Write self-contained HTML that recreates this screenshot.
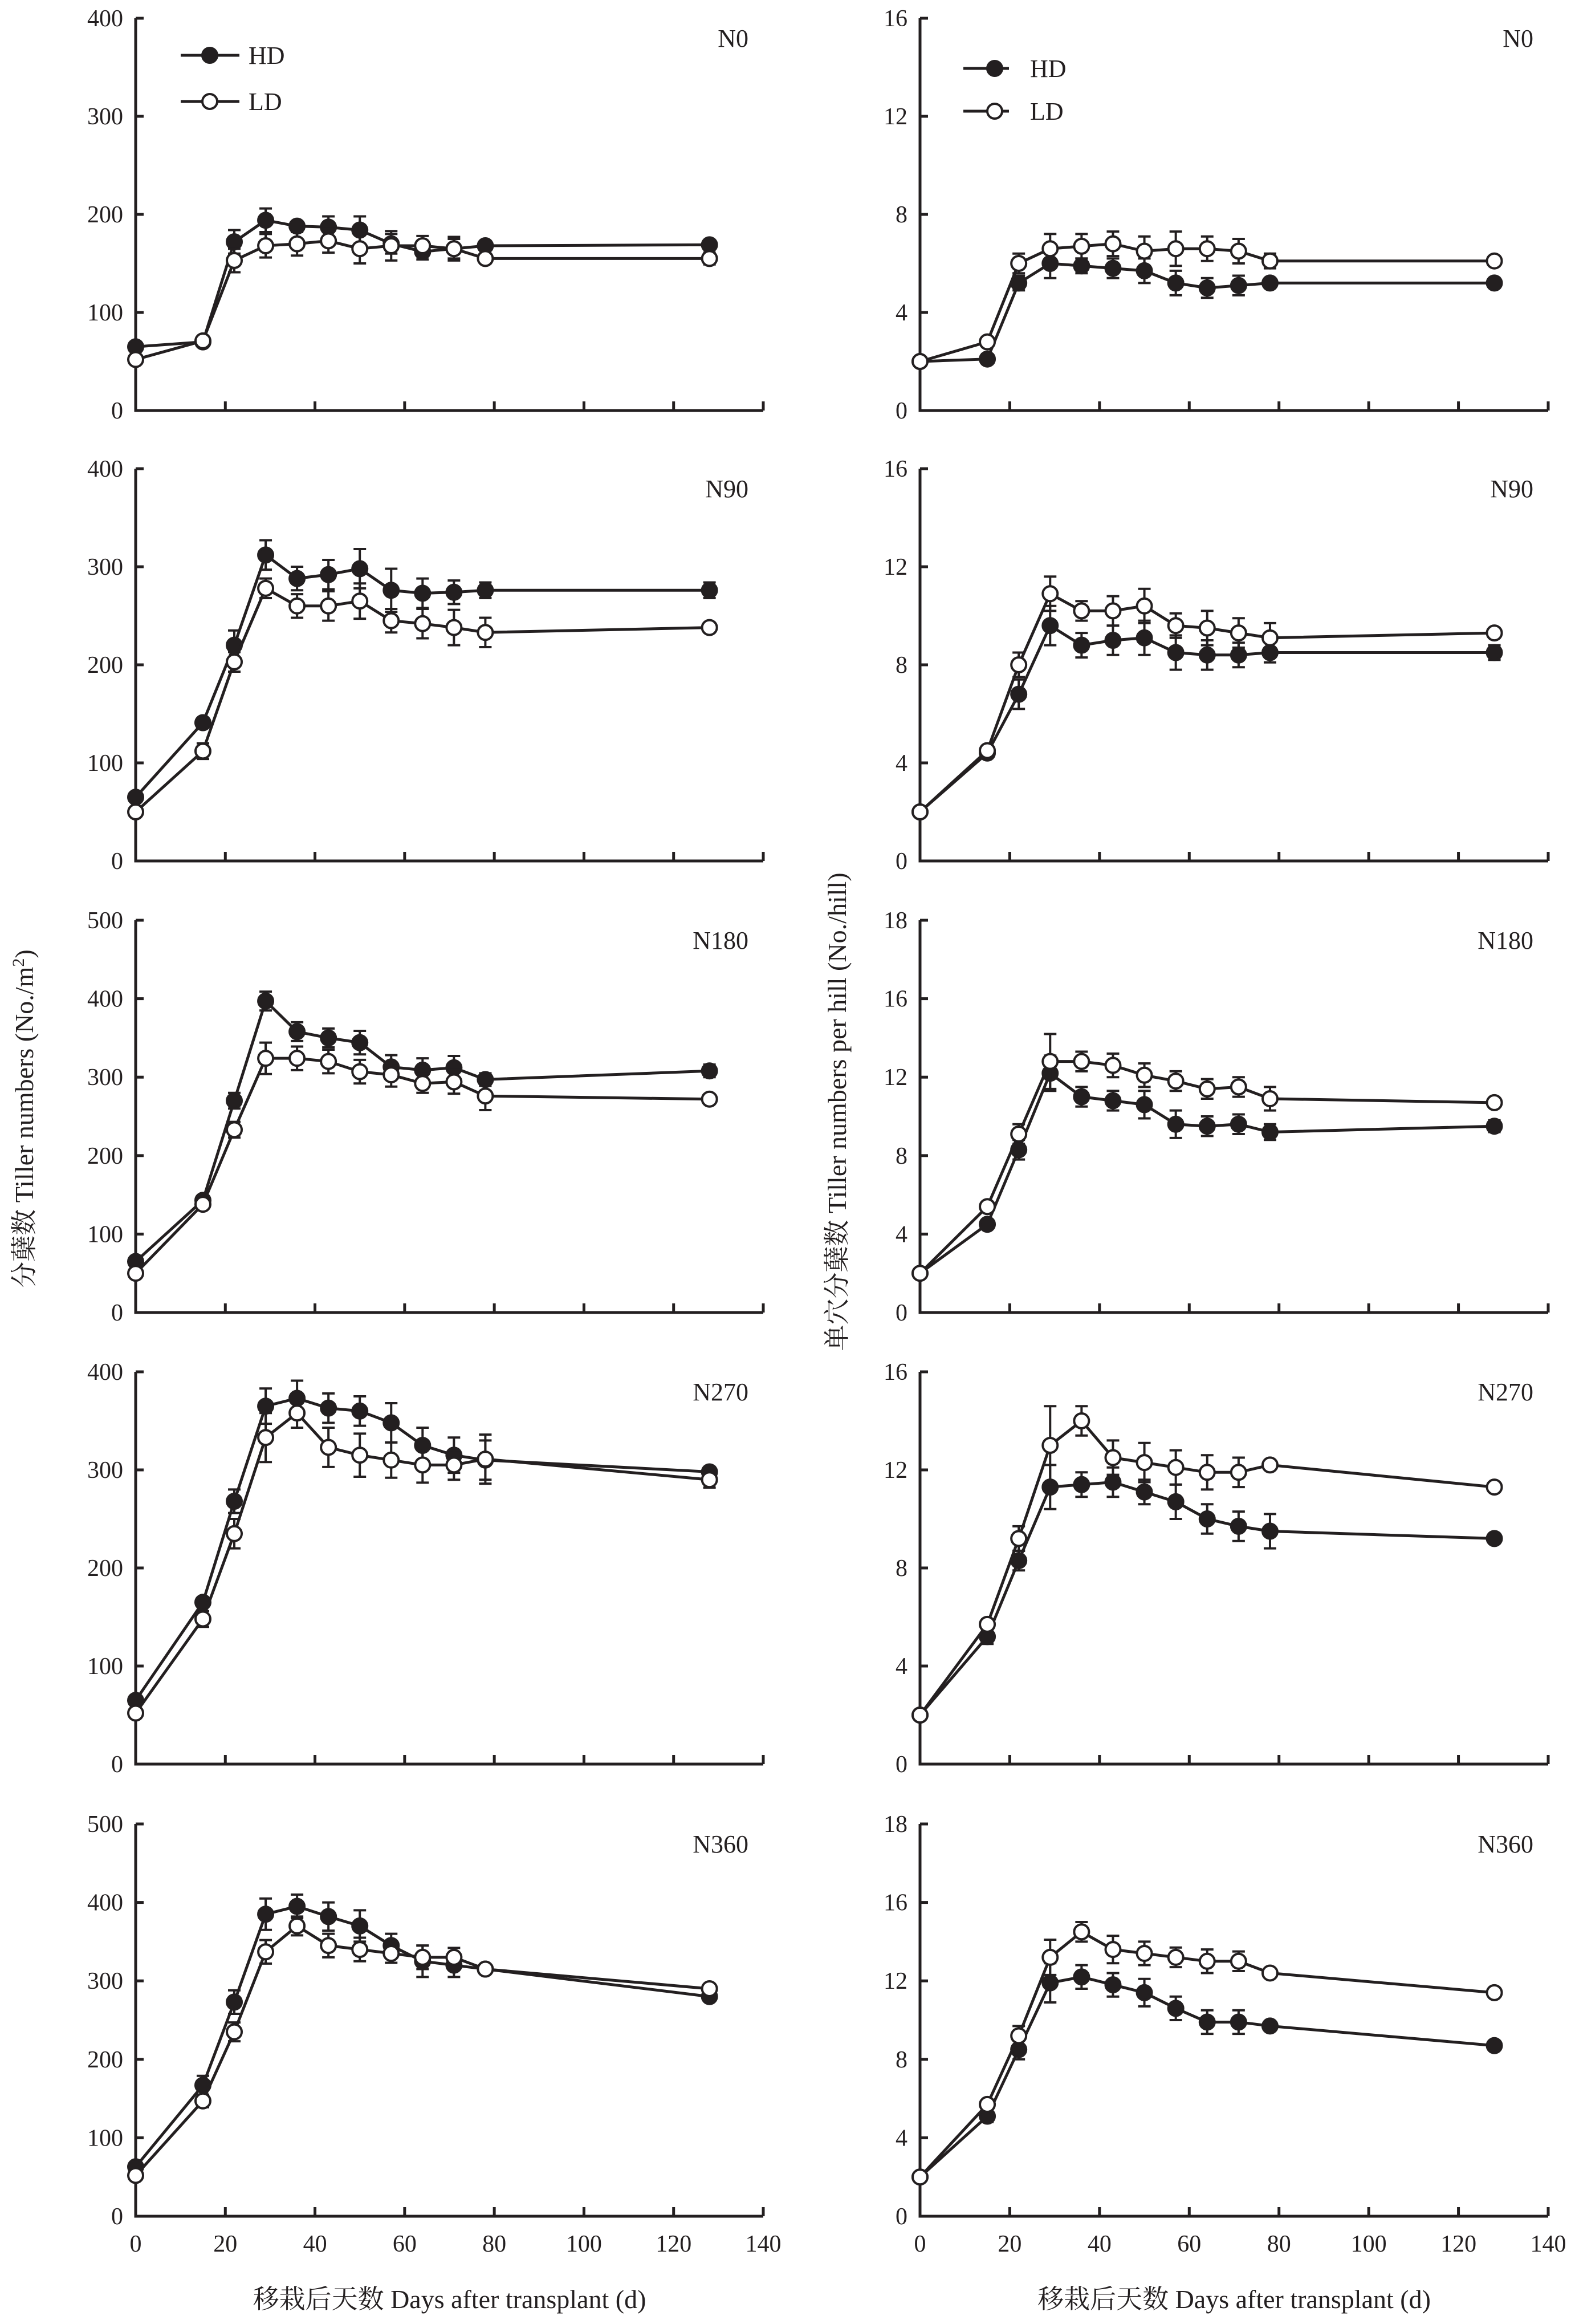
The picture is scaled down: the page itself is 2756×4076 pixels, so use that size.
<!DOCTYPE html>
<html><head><meta charset="utf-8"><style>
html,body{margin:0;padding:0;background:#fff}
svg text{font-family:"Liberation Serif","Noto Serif CJK SC",serif;fill:#231f20}
</style></head><body>
<svg id="c" width="2756" height="4071" viewBox="0 0 2756 4071" xmlns="http://www.w3.org/2000/svg"></svg>
<script>
const days=[0,15,22,29,36,43,50,57,64,71,78,128];
const xTicks=[0,20,40,60,80,100,120,140];
const panelLabels=["N0","N90","N180","N270","N360"];
const leftMax=[400,400,500,400,500];
const rightMax=[16,16,20,16,20];
const leftTicks=[[0,100,200,300,400],[0,100,200,300,400],[0,100,200,300,400,500],[0,100,200,300,400],[0,100,200,300,400,500]];
const leftTickLabels=[["0","100","200","300","400"],["0","100","200","300","400"],["0","100","200","300","400","500"],["0","100","200","300","400"],["0","100","200","300","400","500"]];
const rightTicks=[[0,4,8,12,16],[0,4,8,12,16],[0,4,8,12,16,20],[0,4,8,12,16],[0,4,8,12,16,20]];
const rightTickLabels=[["0","4","8","12","16"],["0","4","8","12","16"],["0","4","8","12","16","18"],["0","4","8","12","16"],["0","4","8","12","16","18"]];
const hdLeft=[[65,70,172,194,188,187,184,170,162,165,168,169],[65,141,220,312,288,292,298,276,273,274,276,276],[65,143,270,397,358,350,344,313,309,312,297,308],[65,165,268,365,373,363,360,348,325,315,310,298],[63,167,273,385,395,382,370,345,325,320,315,280]];
const ldLeft=[[52,71,153,168,170,173,165,168,168,165,155,155],[50,112,203,278,260,260,265,245,242,238,233,238],[50,138,233,324,324,320,307,303,292,294,276,272],[52,148,235,333,358,323,315,310,305,305,311,290],[52,147,235,337,370,345,340,335,330,330,315,290]];
const hdLeftErr=[[2,4,12,12,4,11,14,10,8,12,3,4],[3,4,15,15,12,15,20,22,15,12,8,8],[3,5,10,12,12,12,15,15,15,15,8,8],[3,5,12,18,18,15,15,20,18,18,20,5],[3,12,15,20,15,18,20,15,20,15,5,5]];
const ldLeftErr=[[3,4,12,12,12,12,15,15,10,10,5,6],[3,8,10,10,12,15,18,12,15,18,15,5],[3,5,10,20,15,15,15,15,12,15,18,5],[3,8,15,25,15,20,22,18,18,15,25,8],[3,8,12,15,12,15,15,12,15,12,5,5]];
const hdRight=[[2,2.1,5.2,6.0,5.9,5.8,5.7,5.2,5.0,5.1,5.2,5.2],[2,4.4,6.8,9.6,8.8,9.0,9.1,8.5,8.4,8.4,8.5,8.5],[2,4.5,8.3,12.2,11.0,10.8,10.6,9.6,9.5,9.6,9.2,9.5],[2,5.2,8.3,11.3,11.4,11.5,11.1,10.7,10.0,9.7,9.5,9.2],[2,5.1,8.5,11.9,12.2,11.8,11.4,10.6,9.9,9.9,9.7,8.7]];
const ldRight=[[2,2.8,6.0,6.6,6.7,6.8,6.5,6.6,6.6,6.5,6.1,6.1],[2,4.5,8.0,10.9,10.2,10.2,10.4,9.6,9.5,9.3,9.1,9.3],[2,5.4,9.1,12.8,12.8,12.6,12.1,11.8,11.4,11.5,10.9,10.7],[2,5.7,9.2,13.0,14.0,12.5,12.3,12.1,11.9,11.9,12.2,11.3],[2,5.7,9.2,13.2,14.5,13.6,13.4,13.2,13.0,13.0,12.4,11.4]];
const hdRightErr=[[0.1,0.2,0.3,0.6,0.3,0.4,0.5,0.5,0.4,0.4,0.2,0.2],[0.1,0.2,0.6,0.8,0.5,0.6,0.7,0.7,0.6,0.5,0.4,0.3],[0.1,0.2,0.5,0.9,0.5,0.5,0.7,0.7,0.5,0.5,0.4,0.3],[0.1,0.3,0.4,0.9,0.5,0.6,0.5,0.7,0.6,0.6,0.7,0.2],[0.1,0.3,0.5,1.0,0.6,0.6,0.7,0.6,0.6,0.6,0.2,0.2]];
const ldRightErr=[[0.1,0.2,0.4,0.6,0.5,0.5,0.6,0.7,0.5,0.5,0.3,0.2],[0.1,0.2,0.5,0.7,0.4,0.6,0.7,0.5,0.7,0.6,0.6,0.2],[0.1,0.2,0.5,1.4,0.5,0.6,0.6,0.5,0.5,0.5,0.6,0.2],[0.1,0.2,0.5,1.6,0.6,0.7,0.8,0.7,0.7,0.6,0.2,0.2],[0.1,0.2,0.5,0.9,0.5,0.7,0.6,0.5,0.6,0.5,0.2,0.2]];

const NS="http://www.w3.org/2000/svg";
const svg=document.getElementById('c');
function mk(tag,attrs,parent){const e=document.createElementNS(NS,tag);for(const k in attrs)e.setAttribute(k,attrs[k]);(parent||svg).appendChild(e);return e;}
const bottoms=[720,1510,2302,3094,3887];
const PH=688;
const cols=[{x0:238,x1:1339,maxs:leftMax,ticks:leftTicks,tl:leftTickLabels,hd:hdLeft,ld:ldLeft,he:hdLeftErr,le:ldLeftErr,lab:1313,name:'left'},
            {x0:1614,x1:2716,maxs:rightMax,ticks:rightTicks,tl:rightTickLabels,hd:hdRight,ld:ldRight,he:hdRightErr,le:ldRightErr,lab:2690,name:'right'}];
cols.forEach((c,ci)=>{
  for(let p=0;p<5;p++){
    const B=bottoms[p],T=B-PH,max=c.maxs[p];
    const g=mk('g',{});
    
    
    const X=d=>c.x0+(c.x1-c.x0)*d/140;
    const Y=v=>B-PH*v/max;
    const ax=mk('path',{d:`M${c.x0},${T} V${B} H${c.x1}`,fill:'none',stroke:'#231f20','stroke-width':5},g);
    
    
    c.ticks[p].forEach((t,ti)=>{
      mk('line',{x1:c.x0,x2:c.x0+14,y1:Y(t),y2:Y(t),stroke:'#231f20','stroke-width':5},g);
      const tl=mk('text',{x:c.x0-22,y:Y(t)+14,'font-size':42,'text-anchor':'end'},g);
      tl.textContent=c.tl[p][ti];
      
      
    });
    xTicks.forEach(t=>{
      if(t>0) mk('line',{x1:X(t),x2:X(t),y1:B,y2:B-16,stroke:'#231f20','stroke-width':5},g);
      if(p===4){
        const xl=mk('text',{x:X(t),y:B+62,'font-size':42,'text-anchor':'middle'},g);
        xl.textContent=t;
        
        
      }
    });
    const pl=mk('text',{x:c.lab,y:T+50,'font-size':44,'text-anchor':'end'},g);
    pl.textContent=panelLabels[p];
    
    
    [[c.hd[p],c.he[p],'#231f20','hd'],[c.ld[p],c.le[p],'#fff','ld']].forEach(([vals,errs,fill,nm])=>{
      const sg=mk('g',{},g);
      
      
      vals.forEach((v,i)=>{
        const x=X(days[i]),y1=Y(v+errs[i]),y2=Y(v-errs[i]);
        mk('path',{d:`M${x},${y1}V${y2}M${x-11},${y1}h22M${x-11},${y2}h22`,stroke:'#231f20','stroke-width':4,fill:'none'},sg);
      });
      const line=mk('polyline',{points:vals.map((v,i)=>X(days[i])+','+Y(v)).join(' '),fill:'none',stroke:'#231f20','stroke-width':5},sg);
      
      
      vals.forEach((v,i)=>{
        const m=mk('circle',{cx:X(days[i]),cy:Y(v),r:13,fill:fill,stroke:'#231f20','stroke-width':4},sg);
        
        
      });
    });
  }
  const xt=mk('text',{x:(c.x0+c.x1)/2,y:4048,'font-size':46,'text-anchor':'middle'});
  xt.textContent='移栽后天数 Days after transplant (d)';
  
  
});
const legends=[{x1:317,x2:420,mx:368,tx:436,y:[97,178]},{x1:1690,x2:1770,mx:1745,tx:1807,y:[120,195]}];
legends.forEach((L,li)=>{
  const lg=mk('g',{});
  
  
  [['HD','#231f20'],['LD','#fff']].forEach(([t,f],k)=>{
    const e=mk('g',{},lg);
    
    
    mk('line',{x1:L.x1,x2:L.x2,y1:L.y[k],y2:L.y[k],stroke:'#231f20','stroke-width':5},e);
    mk('circle',{cx:L.mx,cy:L.y[k],r:13,fill:f,stroke:'#231f20','stroke-width':4},e);
    const tt=mk('text',{x:L.tx,y:L.y[k]+15,'font-size':44},e);
    tt.textContent=t;
  });
});
const yl=mk('text',{x:0,y:0,'font-size':46,'text-anchor':'middle',transform:'translate(58,1962) rotate(-90)'});
yl.innerHTML='分蘖数 Tiller numbers (No./m<tspan font-size="30" dy="-16">2</tspan><tspan dy="16">)</tspan>';


const yr=mk('text',{x:0,y:0,'font-size':46,'text-anchor':'middle',transform:'translate(1484,1950) rotate(-90)'});
yr.textContent='单穴分蘖数 Tiller numbers per hill (No./hill)';


</script>
</body></html>
